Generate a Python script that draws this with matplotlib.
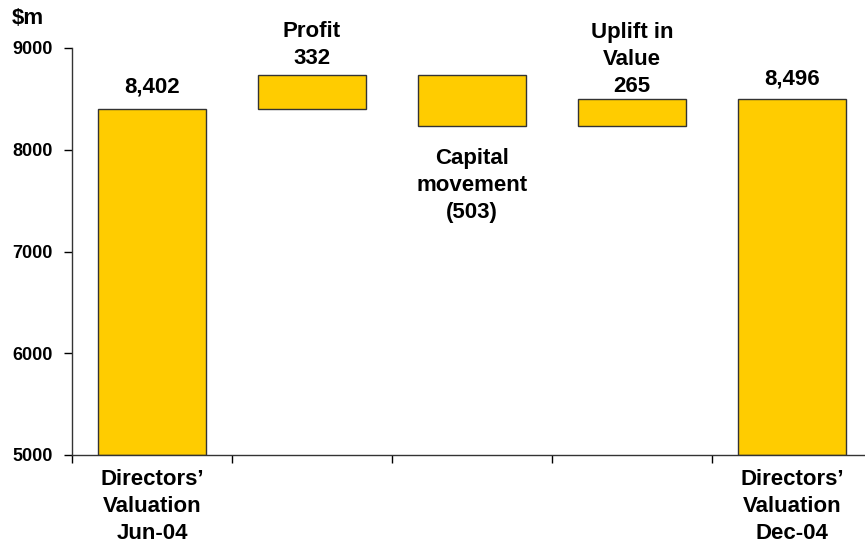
import matplotlib

matplotlib.use("Agg")
import matplotlib.pyplot as plt  # noqa: E402
import numpy as np  # noqa: E402

# --------------------------------------------------------------------------- #
# Data (waterfall, $m)
# --------------------------------------------------------------------------- #
steps = ["Directors' Valuation Jun-04", "Profit", "Capital movement",
         "Uplift in Value", "Directors' Valuation Dec-04"]
start_value = 8402
changes = [332, -503, 265]
end_value = 8496
bar_labels = ["8,402", "Profit\n332", "Capital\nmovement\n(503)",
              "Uplift in\nValue\n265", "8,496"]
tick_labels = ["Directors\u2019\nValuation\nJun-04", "", "", "",
               "Directors\u2019\nValuation\nDec-04"]
y_ticks = [5000, 6000, 7000, 8000, 9000]

BASE = 5000
COLOR = "#FFCC00"
# label offset from bar edge (points); capital movement sits below its bar
LABEL_OFFSETS = [8, 4.5, -16, 2, 7]

plt.rcParams["font.family"] = ["Liberation Sans", "DejaVu Sans"]
plt.rcParams["font.weight"] = "bold"

# bar bottoms / tops
running = np.cumsum([start_value] + changes)
bottoms = [BASE]
tops = [start_value]
for prev, cur in zip(running[:-1], running[1:]):
    bottoms.append(min(prev, cur))
    tops.append(max(prev, cur))
bottoms.append(BASE)
tops.append(end_value)
bottoms = np.array(bottoms)
tops = np.array(tops)

fig = plt.figure(figsize=(8.65, 5.5), dpi=100)
ax = fig.add_axes((72 / 865, 1 - 455 / 550, 800 / 865, 407 / 550))

x = np.arange(len(steps))
ax.bar(x, tops - bottoms, bottom=bottoms, width=0.67, color=COLOR,
       edgecolor="#333333", linewidth=1.0, zorder=2)

for i, lab in enumerate(bar_labels):
    off = LABEL_OFFSETS[i]
    anchor = tops[i] if off > 0 else bottoms[i]
    ax.annotate(lab, (x[i], anchor), xytext=(0, off),
                textcoords="offset points", ha="center",
                va="bottom" if off > 0 else "top",
                fontsize=16, fontweight="bold", linespacing=1.37)

ax.set_xlim(-0.5, len(steps) - 0.5)
ax.set_ylim(BASE, 9000)
ax.set_yticks(y_ticks)
ax.set_yticklabels([str(v) for v in y_ticks], fontsize=13, fontweight="bold")

# category boundary ticks, labels centred under first / last bars
ax.set_xticks(np.arange(len(steps) + 1) - 0.5)
ax.set_xticklabels([])
ax.set_xticks(x, minor=True)
ax.set_xticklabels(tick_labels, minor=True, fontsize=16, fontweight="bold",
                   linespacing=1.37)
ax.tick_params(axis="x", which="minor", length=0, pad=10)
ax.tick_params(axis="x", which="major", length=6, width=1, direction="out")
ax.tick_params(axis="y", length=6, width=1, direction="out", pad=8)

for side in ("top", "right"):
    ax.spines[side].set_visible(False)
for side in ("left", "bottom"):
    ax.spines[side].set_linewidth(1.0)
    ax.spines[side].set_color("#333333")

fig.text(12 / 865, 1 - 19 / 550, "$m", fontsize=16, fontweight="bold",
         ha="left", va="center")

fig.savefig("out.png", dpi=100)
plt.close(fig)
